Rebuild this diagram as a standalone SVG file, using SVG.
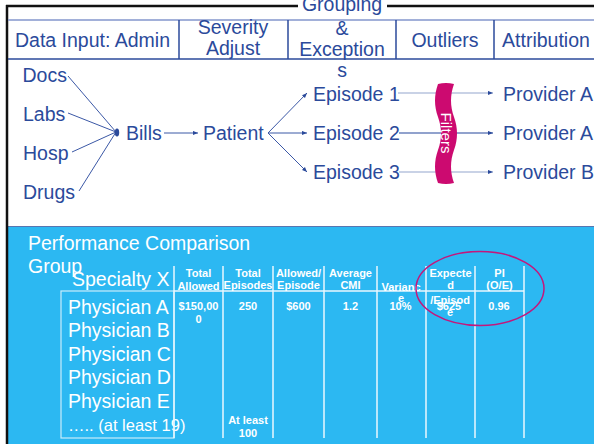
<svg xmlns="http://www.w3.org/2000/svg" width="594" height="444" viewBox="0 0 594 444">
  <defs>
    <marker id="arr" viewBox="0 0 6 6" refX="6" refY="3" markerWidth="5" markerHeight="5" markerUnits="userSpaceOnUse" orient="auto">
      <path d="M0,0.5 L6,3 L0,5.5 z" fill="#2b4a9b"/>
    </marker>
  </defs>
  <style>
    .t{font-family:"Liberation Sans",Arial,sans-serif;font-size:19.5px;fill:#2b4a9b}
    .mid{text-anchor:middle}
    .w{font-family:"Liberation Sans",Arial,sans-serif;font-size:19.5px;fill:#ffffff}
    .tb{font-family:"Liberation Sans",Arial,sans-serif;font-size:11px;font-weight:bold;fill:#ffffff;text-anchor:middle}
    .ln{stroke:#3b58a6;stroke-width:1;fill:none}
    .flow{stroke-width:1.3;fill:none}
    .grid{stroke:#eaf7fe;stroke-width:1.5;fill:none}
    .hdr{stroke:#2b4a9b;stroke-width:1.5}
  </style>

  <!-- page -->
  <rect x="0" y="0" width="594" height="444" fill="#ffffff"/>
  <rect x="8" y="227" width="586" height="217" fill="#2cb8f2"/>
  <line x1="8" y1="226.5" x2="594" y2="226.5" stroke="#5875b0" stroke-width="1"/>

  <!-- frame -->
  <g id="frame">
    <line x1="7" y1="5" x2="7" y2="444" stroke="#111" stroke-width="2.5"/>
    <line x1="6" y1="6" x2="298" y2="6" stroke="#111" stroke-width="2.5"/>
    <line x1="387" y1="6" x2="594" y2="6" stroke="#111" stroke-width="2.5"/>
  </g>

  <!-- stage header -->
  <g id="header">
    <line x1="8" y1="20" x2="594" y2="20" stroke="#8396cc" stroke-width="1.5"/>
    <line x1="8" y1="59" x2="594" y2="59" class="hdr"/>
    <line x1="179" y1="20" x2="179" y2="59" class="hdr"/>
    <line x1="288" y1="20" x2="288" y2="59" class="hdr"/>
    <line x1="396" y1="20" x2="396" y2="59" class="hdr"/>
    <line x1="494" y1="20" x2="494" y2="59" class="hdr"/>
    <text class="t mid" x="92.5" y="47">Data Input: Admin</text>
    <text class="t mid" x="233" y="34">Severity</text>
    <text class="t mid" x="233" y="55">Adjust</text>
    <text class="t mid" x="342" y="11">Grouping</text>
    <text class="t mid" x="342" y="35">&amp;</text>
    <text class="t mid" x="342" y="56">Exception</text>
    <text class="t mid" x="342" y="77">s</text>
    <text class="t mid" x="445" y="47">Outliers</text>
    <text class="t mid" x="546" y="47">Attribution</text>
  </g>

  <!-- connectors -->
  <g id="connectors">
    <line class="ln" x1="68" y1="76" x2="116" y2="132"/>
    <line class="ln" x1="68" y1="113" x2="116" y2="132"/>
    <line class="ln" x1="72" y1="152" x2="116" y2="132"/>
    <line class="ln" x1="79" y1="191" x2="116" y2="132"/>
    <line class="ln" x1="164" y1="133" x2="198" y2="133" marker-end="url(#arr)"/>
    <line class="ln" x1="268" y1="133" x2="307" y2="93" marker-end="url(#arr)"/>
    <line class="ln" x1="268" y1="133" x2="307" y2="133" marker-end="url(#arr)"/>
    <line class="ln" x1="268" y1="133" x2="307" y2="172" marker-end="url(#arr)"/>
    <line class="flow" stroke="#b7c3de" x1="398" y1="93" x2="493" y2="93" marker-end="url(#arr)"/>
    <line class="flow" stroke="#6d83bd" x1="399" y1="133" x2="493" y2="133" marker-end="url(#arr)"/>
    <line class="flow" stroke="#b7c3de" x1="399" y1="172" x2="493" y2="172" marker-end="url(#arr)"/>
  </g>

  <!-- sources -->
  <g id="docs"><text class="t" x="22.5" y="82">Docs</text></g>
  <g id="labs"><text class="t" x="23" y="121">Labs</text></g>
  <g id="hosp"><text class="t" x="23" y="160">Hosp</text></g>
  <g id="drugs"><text class="t" x="23" y="199">Drugs</text></g>

  <g id="bills">
    <ellipse cx="117" cy="132.5" rx="2.2" ry="4" fill="#2b4a9b"/>
    <text class="t" x="126" y="140">Bills</text>
  </g>
  <g id="patient"><text class="t" x="203" y="140">Patient</text></g>

  <g id="episode1"><text class="t" x="313" y="101">Episode 1</text></g>
  <g id="episode2"><text class="t" x="313" y="140">Episode 2</text></g>
  <g id="episode3"><text class="t" x="313" y="179">Episode 3</text></g>

  <g id="filters">
    <path d="M438,84 C434,95 434,106 438,117 C442,128 442,139 438,150 C434,161 434,172 438,183 Q446,185 454,183 C450,172 450,161 454,150 C458,139 458,128 454,117 C450,106 450,95 454,84 Q446,82 438,84 Z" fill="#cc0a70"/>
    <text transform="translate(446,133) rotate(90)" x="0" y="5" text-anchor="middle" font-family="Liberation Sans, Arial, sans-serif" font-size="15" fill="#ffffff">Filters</text>
  </g>

  <g id="providerA1"><text class="t" x="503" y="101">Provider A</text></g>
  <g id="providerA2"><text class="t" x="503" y="140">Provider A</text></g>
  <g id="providerB"><text class="t" x="503" y="179">Provider B</text></g>

  <!-- comparison group panel -->
  <g id="comparison">
    <text class="w" x="28" y="250">Performance Comparison</text>
    <text class="w" x="28" y="273">Group</text>
    <text class="w" x="72" y="286">Specialty X</text>
  </g>

  <g id="physicians">
    <rect x="61" y="291" width="113" height="147" fill="none" stroke="#c8ecfb" stroke-width="1.2"/>
    <text class="w" x="68" y="314">Physician A</text>
    <text class="w" x="68" y="337">Physician B</text>
    <text class="w" x="68" y="361">Physician C</text>
    <text class="w" x="68" y="384">Physician D</text>
    <text class="w" x="68" y="408">Physician E</text>
    <text class="w" x="68" y="431" style="font-size:16.5px">….. (at least 19)</text>
  </g>

  <g id="table">
    <line class="grid" x1="174" y1="291" x2="524" y2="291"/>
    <line class="grid" x1="174" y1="266" x2="174" y2="438"/>
    <line class="grid" x1="223" y1="266" x2="223" y2="438"/>
    <line class="grid" x1="273" y1="266" x2="273" y2="438"/>
    <line class="grid" x1="324" y1="266" x2="324" y2="438"/>
    <line class="grid" x1="377" y1="266" x2="377" y2="438"/>
    <line class="grid" x1="426" y1="266" x2="426" y2="438"/>
    <line class="grid" x1="475" y1="266" x2="475" y2="438"/>
    <line class="grid" x1="524" y1="266" x2="524" y2="438"/>

    <text class="tb" x="198.5" y="277">Total</text>
    <text class="tb" x="198.5" y="289.5">Allowed</text>
    <text class="tb" x="198.5" y="310">$150,00</text>
    <text class="tb" x="198.5" y="323">0</text>

    <text class="tb" x="248" y="276.5">Total</text>
    <text class="tb" x="248" y="289">Episodes</text>
    <text class="tb" x="248" y="310">250</text>
    <text class="tb" x="248" y="424">At least</text>
    <text class="tb" x="248" y="436.5">100</text>

    <text class="tb" x="298.5" y="276.5">Allowed/</text>
    <text class="tb" x="298.5" y="289">Episode</text>
    <text class="tb" x="298.5" y="310">$600</text>

    <text class="tb" x="350.5" y="276.5">Average</text>
    <text class="tb" x="350.5" y="289">CMI</text>
    <text class="tb" x="350.5" y="310">1.2</text>

    <text class="tb" x="401" y="290.5">Varianc</text>
    <text class="tb" x="401" y="302">e</text>
    <text class="tb" x="400.5" y="310">10%</text>

    <text class="tb" x="450.5" y="276.5">Expecte</text>
    <text class="tb" x="450.5" y="288.5">d</text>
    <text class="tb" x="450" y="303.5">/Episod</text>
    <text class="tb" x="450" y="316">e</text>
    <text class="tb" x="449" y="310">$625</text>

    <text class="tb" x="499.5" y="276.5">PI</text>
    <text class="tb" x="499.5" y="289">(O/E)</text>
    <text class="tb" x="499" y="310">0.96</text>
  </g>

  <g id="highlight">
    <ellipse cx="480" cy="288.5" rx="64" ry="37" fill="none" stroke="#c4177c" stroke-width="1.5"/>
  </g>
</svg>
